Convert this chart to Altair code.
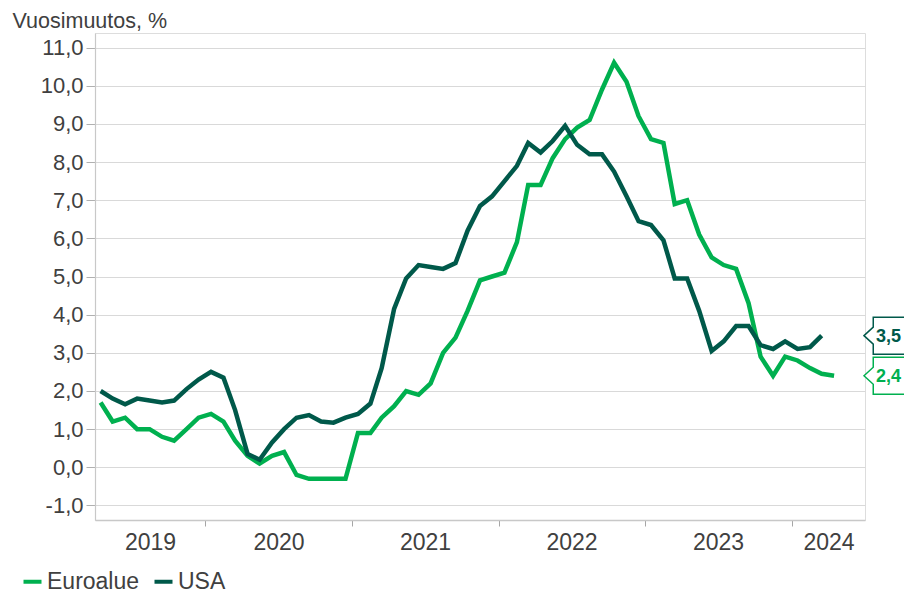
import altair as alt
import pandas as pd

# ---------------- data ----------------
series_names = ["Euroalue", "USA"]

# monthly year-on-year change, %, Euroalue Apr 2019 - Apr 2024
euro_values = [
    1.7, 1.2, 1.3, 1.0, 1.0, 0.8, 0.7, 1.0, 1.3,
    1.4, 1.2, 0.7, 0.3, 0.1, 0.3, 0.4, -0.2, -0.3, -0.3, -0.3, -0.3,
    0.9, 0.9, 1.3, 1.6, 2.0, 1.9, 2.2, 3.0, 3.4, 4.1, 4.9, 5.0,
    5.1, 5.9, 7.4, 7.4, 8.1, 8.6, 8.9, 9.1, 9.9, 10.6, 10.1, 9.2,
    8.6, 8.5, 6.9, 7.0, 6.1, 5.5, 5.3, 5.2, 4.3, 2.9, 2.4, 2.9,
    2.8, 2.6, 2.45, 2.4,
]
# USA Apr 2019 - Mar 2024
usa_values = [
    2.0, 1.8, 1.65, 1.8, 1.75, 1.7, 1.75, 2.05, 2.3,
    2.5, 2.35, 1.5, 0.35, 0.2, 0.65, 1.0, 1.3, 1.37, 1.2, 1.17, 1.3,
    1.4, 1.67, 2.6, 4.15, 4.95, 5.3, 5.25, 5.2, 5.35, 6.2, 6.85, 7.1,
    7.5, 7.9, 8.5, 8.25, 8.55, 8.95, 8.45, 8.2, 8.2, 7.75, 7.1, 6.45,
    6.35, 5.95, 4.95, 4.95, 4.1, 3.05, 3.3, 3.7, 3.7, 3.2, 3.1, 3.3,
    3.1, 3.15, 3.45,
]
first_month = "2019-04-01"
callout_labels = ["2,4", "3,5"]
y_ticks = list(range(-1, 12))
tick_years = [2020, 2021, 2022, 2023, 2024]
# year label anchors (centre of each visible year)
label_dates = [(2019, 8, 16), (2020, 7, 1), (2021, 7, 1), (2022, 7, 1), (2023, 7, 1), (2024, 4, 1)]

# ---------------- styling ----------------
colors = ["#00B04F", "#00594A"]
FONT = "Liberation Sans"
TEXT = "#404040"
GRID = "#d9d9d9"


def monthly(values):
    d = pd.date_range(first_month, periods=len(values), freq="MS") + pd.Timedelta(days=14)
    return d.strftime("%Y-%m-%d")


df = pd.concat([
    pd.DataFrame({"date": monthly(euro_values), "value": euro_values, "series": series_names[0]}),
    pd.DataFrame({"date": monthly(usa_values), "value": usa_values, "series": series_names[1]}),
])

last = pd.DataFrame({
    "series": series_names,
    "value": [euro_values[-1], usa_values[-1]],
    "label": callout_labels,
})

x_values = [alt.DateTime(year=y, month=1, date=1, utc=True) for y in tick_years] + \
           [alt.DateTime(year=y, month=m, date=d, utc=True) for (y, m, d) in label_dates]

x_scale = alt.Scale(type="utc",
                    domain=[alt.DateTime(year=2019, month=4, date=1, utc=True),
                            alt.DateTime(year=2024, month=7, date=1, utc=True)])
y_scale = alt.Scale(domain=[-1.38, 11.38], nice=False, zero=False)

x_axis = alt.Axis(
    values=x_values, title=None, grid=False,
    labelExpr="utcmonth(datum.value) === 0 ? '' : utcFormat(datum.value, '%Y')",
    labelOverlap=False, labelFlush=False, labelBound=False,
    labelFontSize=23, labelColor=TEXT, labelFont=FONT, labelPadding=5,
    tickSize=6, tickColor="#a6a6a6",
    tickOpacity={"condition": {"test": "utcmonth(datum.value) === 0", "value": 1}, "value": 0},
    domainColor="#c8c8c8", domainWidth=1.5,
)

y_axis = alt.Axis(
    values=y_ticks, grid=True, gridColor=GRID, gridWidth=1.2,
    labelExpr="replace(replace(format(datum.value, '.1f'), '.', ','), '\u2212', '-')",
    labelFontSize=22, labelColor=TEXT, labelFont=FONT, labelPadding=3,
    tickSize=9, tickColor="#b0b0b0", domainColor="#c8c8c8", domainWidth=1.2,
    title="Vuosimuutos, %", titleAngle=0, titleAlign="left", titleBaseline="alphabetic",
    titleX=-83, titleY=-6, titleFontSize=21.5, titleFontWeight="normal",
    titleColor=TEXT, titleFont=FONT,
)

lines = alt.Chart(df).mark_line(strokeWidth=4.5, strokeJoin="miter").encode(
    x=alt.X("date:T", scale=x_scale, axis=x_axis),
    y=alt.Y("value:Q", scale=y_scale, axis=y_axis),
    color=alt.Color(
        "series:N",
        scale=alt.Scale(domain=series_names, range=colors),
        legend=alt.Legend(
            orient="none", legendX=-74, legendY=537, direction="horizontal", title=None,
            symbolType="stroke", symbolStrokeWidth=4, symbolSize=324,
            labelFontSize=23, labelColor=TEXT, labelFont=FONT,
            columnPadding=6, labelOffset=3,
        ),
    ),
)

CALLOUT = "M0,0L0.5,-0.46L0.5,-1L3.6,-1L3.6,1L0.5,1L0.5,0.46Z"

layers = [lines]
for name, col in zip(series_names, colors):
    box = alt.Chart(last).transform_filter(alt.datum.series == name).mark_point(
        shape=CALLOUT, size=1369, filled=True, fill="white", stroke=col,
        strokeWidth=1.5, opacity=1,
    ).encode(x=alt.value(769), y=alt.Y("value:Q", scale=y_scale))
    txt = alt.Chart(last).transform_filter(alt.datum.series == name).mark_text(
        align="left", baseline="middle", fontSize=18, fontWeight="bold",
        color=col, font=FONT, dy=1,
    ).encode(x=alt.value(781), y=alt.Y("value:Q", scale=y_scale), text="label:N")
    layers += [box, txt]

chart = alt.layer(*layers).properties(
    width=770, height=487,
    autosize=alt.AutoSizeParams(type="none"),
    padding={"left": 87, "top": 25, "right": 39, "bottom": 76},
).configure_view(stroke=None).configure(font=FONT)

chart.save("out.html", embed_options={"renderer": "svg", "actions": False})
